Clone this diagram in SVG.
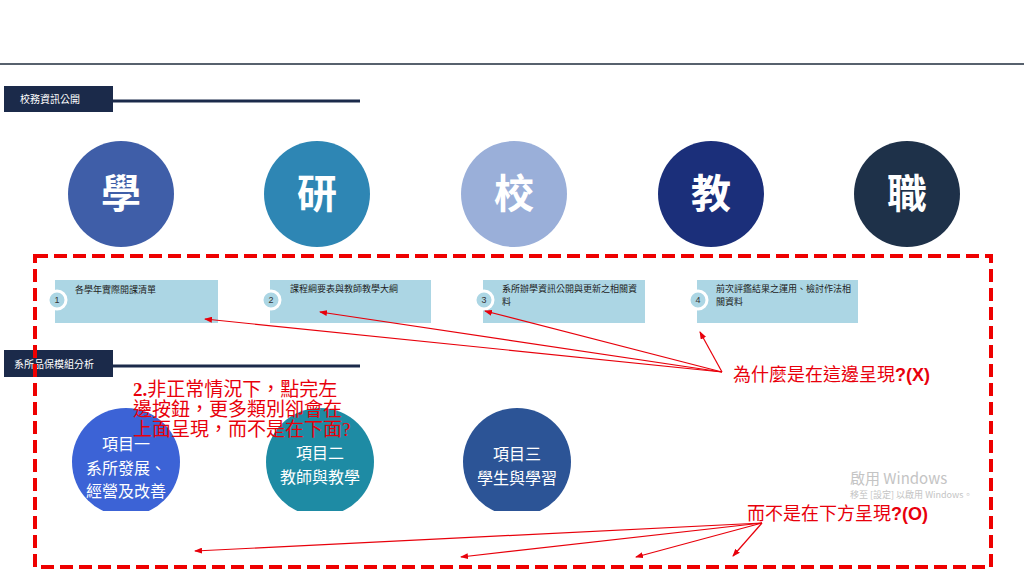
<svg xmlns="http://www.w3.org/2000/svg" width="1024" height="576" viewBox="0 0 1024 576">
<style>
.cjk{font-family:"Noto Sans CJK TC","Noto Sans",sans-serif}
.hdr{fill:#1b2a4a}
.hdrt{fill:#ffffff;font-size:10px}
.big{fill:#ffffff;font-size:40px;font-weight:bold;text-anchor:middle}
.box{fill:#acd6e4}
.num{fill:#acd6e4;stroke:#ffffff;stroke-width:3}
.numt{fill:#333333;font-size:9px;font-family:"Liberation Sans",sans-serif;text-anchor:middle}
.bt{fill:#222222;font-size:9px}
.ct{fill:#ffffff;font-size:16px;text-anchor:middle}
.red{fill:#e8000b;font-size:19px;font-family:"Liberation Serif","Noto Sans CJK TC",serif}
.ann{fill:#e8000b;font-size:18px;font-family:"Liberation Serif","Noto Sans CJK TC",serif}
.arr{stroke:#e8000b;stroke-width:1.2;fill:none;marker-end:url(#ah)}
</style>
<defs>
<marker id="ah" markerWidth="8" markerHeight="6" refX="7" refY="3" orient="auto" markerUnits="userSpaceOnUse">
<path d="M0,0 L8,3 L0,6 Z" fill="#e8000b"/>
</marker>
<clipPath id="cl"><rect x="0" y="0" width="1024" height="511"/></clipPath>
</defs>
<rect width="1024" height="576" fill="#ffffff"/>
<line x1="0" y1="64" x2="1024" y2="64" stroke="#1f2d3d" stroke-width="1.5"/>

<g id="header1">
<rect class="hdr" x="4" y="86" width="109" height="26"/>
<line x1="113" y1="101" x2="360" y2="101" stroke="#1b2a4a" stroke-width="3"/>
<text class="cjk hdrt" x="20" y="103">校務資訊公開</text>
</g>

<g id="c-xue"><circle cx="121" cy="194" r="53" fill="#3f5ea8"/><text class="cjk big" x="121" y="208">學</text></g>
<g id="c-yan"><circle cx="317" cy="194" r="53" fill="#2e86b4"/><text class="cjk big" x="317" y="208">研</text></g>
<g id="c-xiao"><circle cx="514" cy="194" r="53" fill="#9aafd9"/><text class="cjk big" x="514" y="208">校</text></g>
<g id="c-jiao"><circle cx="711" cy="194" r="53" fill="#1b2f7a"/><text class="cjk big" x="711" y="208">教</text></g>
<g id="c-zhi"><circle cx="907" cy="194" r="53" fill="#1e3149"/><text class="cjk big" x="907" y="208">職</text></g>

<g id="box1"><rect class="box" x="55" y="280" width="163" height="43"/><circle class="num" cx="57" cy="300" r="9"/><text class="numt" x="57" y="303">1</text><text class="cjk bt" x="75" y="293">各學年實際開課清單</text></g>
<g id="box2"><rect class="box" x="270" y="280" width="161" height="43"/><circle class="num" cx="271" cy="300" r="9"/><text class="numt" x="271" y="303">2</text><text class="cjk bt" x="290" y="292">課程綱要表與教師教學大綱</text></g>
<g id="box3"><rect class="box" x="483" y="280" width="162" height="43"/><circle class="num" cx="484" cy="300" r="9"/><text class="numt" x="484" y="303">3</text><text class="cjk bt" x="502" y="292">系所辦學資訊公開與更新之相關資</text><text class="cjk bt" x="502" y="305">料</text></g>
<g id="box4"><rect class="box" x="697" y="280" width="161" height="43"/><circle class="num" cx="698" cy="300" r="9"/><text class="numt" x="698" y="303">4</text><text class="cjk bt" x="716" y="292">前次評鑑結果之運用、檢討作法相</text><text class="cjk bt" x="716" y="305">關資料</text></g>

<g id="header2">
<rect class="hdr" x="4" y="350" width="109" height="27"/>
<line x1="113" y1="366" x2="360" y2="366" stroke="#1b2a4a" stroke-width="3"/>
<text class="cjk hdrt" x="14" y="368">系所品保模組分析</text>
</g>

<g id="item1" clip-path="url(#cl)"><circle cx="126" cy="462" r="54" fill="#3c63d6"/><text class="cjk ct" x="126" y="450">項目一</text><text class="cjk ct" x="126" y="473.5">系所發展、</text><text class="cjk ct" x="126" y="497">經營及改善</text></g>
<g id="item2" clip-path="url(#cl)"><circle cx="320" cy="462" r="54" fill="#1e8ba4"/><text class="cjk ct" x="320" y="459">項目二</text><text class="cjk ct" x="320" y="482.5">教師與教學</text></g>
<g id="item3" clip-path="url(#cl)"><circle cx="517" cy="462" r="54" fill="#2c5496"/><text class="cjk ct" x="517" y="460">項目三</text><text class="cjk ct" x="517" y="483.5">學生與學習</text></g>

<g id="note1">
<text class="red" x="133" y="396"><tspan font-weight="bold">2.</tspan>非正常情況下，點完左</text>
<text class="red" x="133" y="416">邊按鈕，更多類別卻會在</text>
<text class="red" x="133" y="436">上面呈現，而不是在下面?</text>
</g>

<g id="watermark" class="cjk" fill="#c4c4c4">
<text x="850" y="484" font-size="15">啟用 Windows</text>
<text x="850" y="498" font-size="9">移至 [設定] 以啟用 Windows。</text>
</g>

<rect id="frame" x="35" y="256" width="956" height="311" fill="none" stroke="#ee0000" stroke-width="4" stroke-dasharray="13,6"/>

<g id="note2"><text class="ann" x="733" y="381">為什麼是在這邊呈現<tspan font-weight="bold" font-family="Liberation Sans,sans-serif">?(X)</tspan></text></g>
<g id="note3"><text class="ann" x="747" y="520">而不是在下方呈現<tspan font-weight="bold" font-family="Liberation Sans,sans-serif">?(O)</tspan></text></g>

<g id="connectors">
<line class="arr" x1="722" y1="372" x2="205" y2="319"/>
<line class="arr" x1="722" y1="372" x2="320" y2="312"/>
<line class="arr" x1="722" y1="372" x2="485" y2="311"/>
<line class="arr" x1="722" y1="372" x2="700" y2="332"/>
<line class="arr" x1="762" y1="523" x2="195" y2="551"/>
<line class="arr" x1="762" y1="523" x2="461" y2="557"/>
<line class="arr" x1="762" y1="523" x2="636" y2="557"/>
<line class="arr" x1="762" y1="523" x2="733" y2="556"/>
</g>
</svg>
